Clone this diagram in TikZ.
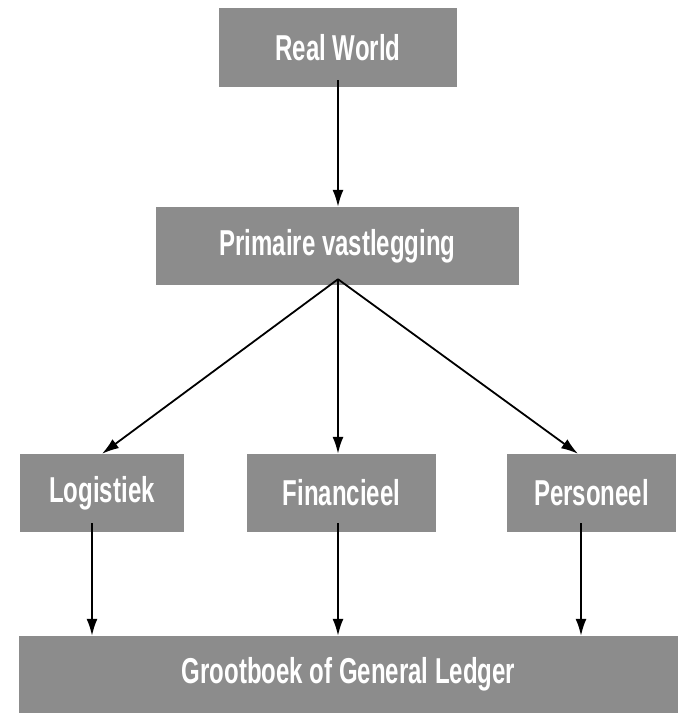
\documentclass[tikz,border=0pt]{standalone}
\usepackage{fontspec}
\newfontfamily\boxfont{Liberation Sans}[FakeStretch=0.667]
\usetikzlibrary{arrows.meta,calc}
\definecolor{boxgray}{HTML}{8C8C8C}
\begin{document}
\begin{tikzpicture}[x=1pt,y=-1pt,
  box/.style={fill=boxgray,draw=none,text=white,inner sep=0pt,
    font=\boxfont\bfseries\fontsize{36}{40}\selectfont},
  arr/.style={line width=1.8pt,-{Latex[length=17pt,width=11pt]}}]
  \useasboundingbox (0,0) rectangle (680,713);
  \fill[white] (0,0) rectangle (680,713);

  % boxes
  \node[box,minimum width=238pt,minimum height=79pt] (rw) at (338,47.5) {Real World};
  \node[box,minimum width=363pt,minimum height=78pt] (pv) at (337.5,246) {Primaire vastlegging};
  \node[box,minimum width=164pt,minimum height=78pt] (lo) at (102,493) {Logistiek};
  \node[box,minimum width=189pt,minimum height=78pt] (fi) at (341.5,493) {Financieel};
  \node[box,minimum width=169pt,minimum height=78pt] (pe) at (591.5,493) {Personeel};
  \node[box,minimum width=659pt,minimum height=77pt] (gl) at (348.5,674.5) {Grootboek of General Ledger};

  % connectors
  \coordinate (top) at ([yshift=7pt]rw.south);
  \coordinate (fork) at ([xshift=0.5pt,yshift=6pt]pv.south);
  \draw[arr] (top) -- (top |- pv.north);
  \draw[arr] (fork) -- (lo.north);
  \draw[arr] (fork) -- (fork |- fi.north);
  \draw[arr] (fork) -- ([xshift=-13.5pt]pe.north);

  \coordinate (lo1) at ([xshift=-10pt,yshift=9pt]lo.south);
  \coordinate (fi1) at ([xshift=-3.5pt,yshift=9pt]fi.south);
  \coordinate (pe1) at ([xshift=-10.5pt,yshift=9pt]pe.south);
  \draw[arr] (lo1) -- (lo1 |- gl.north);
  \draw[arr] (fi1) -- (fi1 |- gl.north);
  \draw[arr] (pe1) -- (pe1 |- gl.north);
\end{tikzpicture}
\end{document}
